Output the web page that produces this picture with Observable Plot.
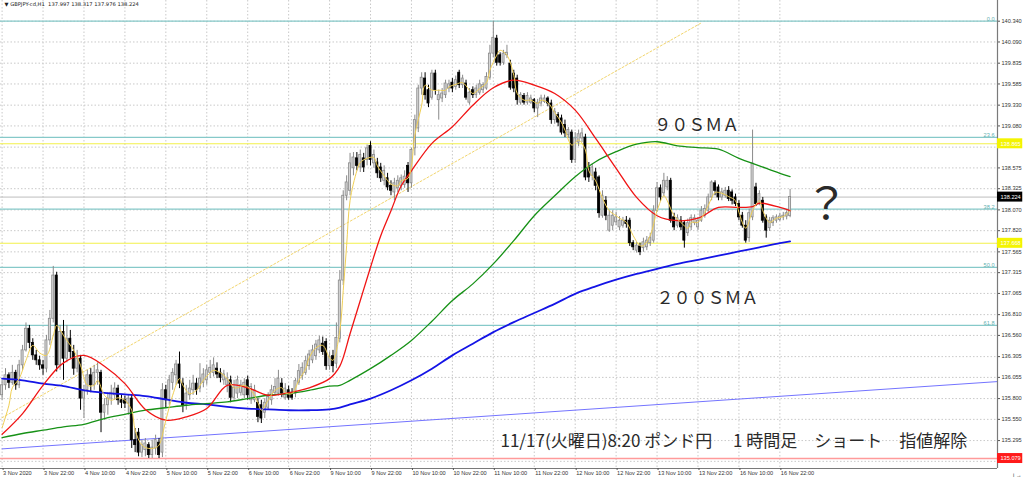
<!DOCTYPE html>
<html>
<head>
<meta charset="utf-8">
<script src="https://cdn.jsdelivr.net/npm/d3@7"></script>
<script src="https://cdn.jsdelivr.net/npm/@observablehq/plot@0.6"></script>
<style>
  html, body { margin: 0; padding: 0; background: #fff; }
  #chart { width: 1024px; height: 479px; overflow: hidden; }
  #chart svg { display: block; }
</style>
</head>
<body>
<div id="chart"></div>
<script>
// GBPJPY H1 candles, one row per hour: [open, high, low, close]
const nov03 = [
  [135.84,136.02,135.78,135.96],[135.96,136.16,135.90,136.08],[136.08,136.11,135.92,135.99],
  [135.99,136.20,135.96,136.11],[136.11,136.14,135.90,135.96],[135.96,136.26,135.92,136.20],
  [136.20,136.44,136.14,136.38],[136.38,136.71,136.36,136.64],[136.64,136.68,136.40,136.47],
  [136.47,136.52,136.26,136.32],[136.32,136.38,136.20,136.26],[136.26,136.31,136.14,136.20],
  [136.20,136.26,136.08,136.16],[136.16,136.56,136.11,136.50]
];
const nov04 = [
  [136.50,136.86,136.44,136.76],[136.76,137.39,136.71,137.28],[137.28,137.32,136.12,136.20],
  [136.20,136.68,136.14,136.60],[136.60,136.74,136.02,136.28],[136.28,136.68,136.23,136.52],
  [136.52,136.62,136.28,136.36],[136.36,136.44,136.08,136.16],[136.16,136.38,136.11,136.28],
  [136.28,136.32,135.66,135.80],[135.80,135.96,135.56,135.90],[135.90,136.14,135.84,136.08],
  [136.08,136.16,135.87,135.96],[135.96,136.20,135.90,136.11],[136.11,136.23,135.96,136.14],
  [136.11,136.14,135.39,135.63],[135.63,135.80,135.54,135.72],[135.72,135.87,135.60,135.80],
  [135.80,135.96,135.72,135.87],[135.84,135.99,135.78,135.92],[135.92,135.96,135.72,135.78],
  [135.78,135.84,135.68,135.75],[135.78,135.83,135.68,135.74],[135.74,135.84,135.60,135.80]
];
const nov05 = [
  [135.80,135.84,135.20,135.30],[135.30,135.44,135.15,135.24],[135.39,135.44,135.10,135.15],
  [135.15,135.30,135.09,135.24],[135.18,135.32,135.10,135.26],[135.24,135.27,135.08,135.12],
  [135.12,135.30,135.08,135.21],[135.20,135.36,135.12,135.30],[135.27,135.32,135.079,135.12],
  [135.15,135.98,135.09,135.90],[135.90,135.96,135.68,135.78],[135.78,136.08,135.72,136.02],
  [135.99,136.16,135.90,136.11],[136.08,136.26,135.96,136.21],[136.21,136.36,135.92,135.98],
  [135.98,136.04,135.63,135.72],[135.72,135.96,135.66,135.86],[135.84,136.02,135.78,135.92],
  [135.90,136.08,135.84,135.98],[135.98,136.04,135.84,135.90],[135.92,136.22,135.87,136.04],
  [135.99,136.16,135.93,136.09],[136.02,136.20,135.96,136.14],[136.11,136.26,136.04,136.17]
];
const nov06 = [
  [136.11,136.29,136.06,136.20],[136.16,136.23,136.04,136.09],[136.11,136.16,135.99,136.05],
  [136.02,136.14,135.96,136.09],[135.96,136.11,135.87,136.04],[136.02,136.07,135.75,135.81],
  [135.81,136.02,135.78,135.93],[135.86,136.07,135.80,136.02],[135.87,136.02,135.83,135.96],
  [135.84,136.04,135.80,135.99],[136.02,136.07,135.78,135.84],[135.78,135.98,135.73,135.94],
  [135.78,135.96,135.75,135.90],[135.75,135.80,135.51,135.58],[135.72,135.78,135.50,135.56],
  [135.63,135.80,135.56,135.75],[135.69,135.87,135.66,135.82],[135.78,135.96,135.72,135.90],
  [135.87,136.04,135.84,135.94],[135.86,136.14,135.83,136.04],[135.98,136.04,135.81,135.86],
  [135.81,135.98,135.78,135.92],[135.90,135.95,135.78,135.81],[135.87,135.92,135.78,135.81]
];
const nov09 = [
  [135.86,136.04,135.81,136.01],[135.99,136.21,135.96,136.13],[136.07,136.23,136.02,136.17],
  [136.11,136.31,136.08,136.25],[136.19,136.38,136.14,136.33],[136.26,136.44,136.22,136.38],
  [136.31,136.50,136.26,136.45],[136.38,136.55,136.34,136.50],[136.46,136.54,136.32,136.36],
  [136.48,136.52,136.14,136.19],[136.19,136.36,136.14,136.30],[136.31,136.38,136.11,136.19],
  [136.22,136.71,136.16,136.53],[136.52,137.34,136.47,137.22],[137.22,138.30,137.16,138.24],
  [138.24,138.48,138.18,138.40],[138.30,138.75,138.24,138.63],[138.57,138.76,138.48,138.70],
  [138.69,138.76,138.54,138.60],[138.58,138.79,138.52,138.73],[138.69,138.75,138.52,138.58],
  [138.67,138.85,138.60,138.81],[138.84,138.89,138.60,138.67],[138.63,138.79,138.57,138.73]
];
const nov10 = [
  [138.64,138.69,138.45,138.51],[138.58,138.63,138.40,138.45],[138.42,138.60,138.36,138.54],
  [138.45,138.51,138.30,138.34],[138.36,138.42,138.24,138.30],[138.28,138.45,138.18,138.39],
  [138.33,138.48,138.28,138.42],[138.36,138.49,138.30,138.45],[138.37,138.54,138.33,138.47],
  [138.60,138.64,138.28,138.39],[138.39,138.81,138.33,138.79],[138.81,139.21,138.72,139.15],
  [139.05,139.57,139.00,139.53],[139.53,139.72,139.45,139.66],[139.65,139.72,139.39,139.45],
  [139.51,139.57,139.30,139.35],[139.42,139.75,139.39,139.71],[139.71,139.75,139.45,139.51],
  [139.39,139.51,139.15,139.45],[139.41,139.53,139.36,139.47],[139.45,139.63,139.41,139.59],
  [139.53,139.63,139.48,139.58],[139.60,139.65,139.48,139.53],[139.55,139.68,139.51,139.63]
];
const nov11 = [
  [139.72,139.75,139.53,139.57],[139.57,139.69,139.53,139.65],[139.59,139.63,139.39,139.42],
  [139.36,139.53,139.33,139.48],[139.51,139.55,139.41,139.45],[139.45,139.57,139.41,139.53],
  [139.48,139.63,139.45,139.58],[139.51,139.60,139.47,139.57],[139.53,139.72,139.51,139.67],
  [139.66,140.05,139.63,139.95],[139.95,140.340,139.90,140.14],[140.13,140.17,139.80,139.84],
  [139.93,139.96,139.80,139.84],[139.84,139.99,139.81,139.95],[139.93,140.05,139.89,139.96],
  [139.83,139.87,139.51,139.54],[139.71,139.75,139.48,139.53],[139.65,139.69,139.33,139.39],
  [139.36,139.48,139.33,139.45],[139.44,139.47,139.33,139.36],[139.36,139.48,139.33,139.44],
  [139.36,139.45,139.34,139.41],[139.39,139.41,139.24,139.29],[139.29,139.40,139.18,139.36]
];
const nov12 = [
  [139.35,139.45,139.31,139.41],[139.37,139.45,139.35,139.41],[139.41,139.43,139.31,139.35],
  [139.35,139.39,139.10,139.15],[139.15,139.29,139.10,139.25],[139.21,139.24,139.07,139.12],
  [139.17,139.21,138.97,139.00],[139.09,139.15,138.94,138.99],[138.97,139.06,138.93,139.03],
  [139.00,139.03,138.63,138.67],[138.67,139.00,138.63,138.93],[138.88,139.03,138.83,138.98],
  [138.93,139.05,138.88,138.99],[138.94,138.98,138.42,138.46],[138.58,138.64,138.40,138.46],
  [138.48,138.62,138.42,138.58],[138.52,138.57,138.30,138.36],[138.46,138.48,137.97,138.03],
  [138.00,138.30,137.97,138.24],[138.18,138.23,137.94,138.00],[137.82,138.06,137.80,138.00],
  [137.88,138.06,137.82,138.00],[137.92,138.04,137.88,137.98],[137.86,137.99,137.82,137.94]
];
const nov13 = [
  [137.88,137.98,137.85,137.94],[137.94,137.99,137.85,137.90],[137.94,137.97,137.63,137.67],
  [137.67,137.70,137.58,137.62],[137.58,137.68,137.55,137.64],[137.63,137.67,137.52,137.56],
  [137.61,137.73,137.56,137.68],[137.62,137.75,137.58,137.70],[137.67,137.79,137.63,137.73],
  [137.70,138.12,137.67,138.06],[138.06,138.40,138.04,138.33],[138.33,138.37,138.17,138.22],
  [138.27,138.51,138.23,138.42],[138.34,138.47,138.30,138.42],[138.42,138.45,137.91,137.94],
  [137.98,138.03,137.82,137.86],[137.88,138.01,137.85,137.97],[137.94,137.99,137.82,137.86],
  [137.91,137.94,137.61,137.70],[137.79,137.96,137.75,137.91],[137.86,138.01,137.82,137.97],
  [137.91,138.01,137.88,137.97],[137.86,137.98,137.82,137.94],[137.94,138.11,137.92,138.06]
];
const nov16 = [
  [138.00,138.13,137.97,138.08],[138.06,138.26,138.03,138.22],[138.22,138.42,138.18,138.40],
  [138.39,138.42,138.24,138.30],[138.34,138.37,138.18,138.22],[138.22,138.33,138.18,138.28],
  [138.24,138.34,138.21,138.30],[138.30,138.35,138.17,138.20],[138.28,138.31,138.13,138.18],
  [138.22,138.26,138.11,138.14],[138.14,138.18,137.94,137.98],[138.00,138.04,137.85,137.88],
  [137.88,137.94,137.67,137.70],[137.73,138.08,137.68,138.03],[137.98,139.03,137.94,138.63],
  [138.34,138.39,138.11,138.14],[138.14,138.30,138.12,138.26],[138.18,138.22,137.91,137.94],
  [137.98,138.01,137.73,137.82],[137.85,137.98,137.81,137.94],[137.91,138.00,137.87,137.97],
  [137.94,138.01,137.91,137.98],[137.95,138.03,137.93,137.99],[137.98,138.04,137.94,138.00]
];
const nov17 = [
  [137.99,138.06,137.95,138.03],[137.997,138.317,137.976,138.224]
];

// Moving averages as [bar number, price]
const smaShort = [
  [0,135.45],[2,135.72],[3,135.93],[5,136.04],[7,136.26],[9,136.44],[11,136.35],[13,136.32],
  [15,136.56],[16,136.68],[18,136.56],[19,136.50],[21,136.38],[23,136.20],[25,135.96],[27,135.96],
  [28,136.02],[30,135.84],[32,135.78],[34,135.81],[36,135.78],[38,135.66],[39,135.42],[41,135.24],
  [43,135.20],[45,135.21],[46,135.24],[48,135.54],[50,135.84],[52,136.04],[53,135.96],[55,135.86],
  [57,135.90],[59,136.02],[61,136.11],[62,136.14],[64,136.11],[66,136.04],[68,135.93],[69,135.93],
  [71,135.96],[73,135.90],[75,135.75],[76,135.66],[78,135.78],[80,135.90],[82,135.93],[83,135.87],
  [85,135.86],[87,136.02],[89,136.16],[90,136.29],[92,136.41],[94,136.44],[96,136.29],[97,136.26],
  [99,136.62],[100,137.10],[101,137.64],[102,138.18],[104,138.54],[105,138.64],[107,138.69],[109,138.70],
  [110,138.60],[112,138.48],[114,138.38],[116,138.36],[117,138.42],[119,138.45],[120,138.60],[121,138.97],
  [123,139.33],[124,139.57],[126,139.51],[128,139.51],[130,139.51],[131,139.55],[133,139.58],[135,139.60],
  [137,139.51],[138,139.47],[140,139.53],[142,139.60],[143,139.75],[145,139.93],[146,139.99],[148,139.93],
  [150,139.69],[151,139.47],[153,139.39],[155,139.39],[157,139.35],[158,139.39],[160,139.36],[162,139.24],
  [164,139.12],[165,139.03],[167,138.85],[169,138.91],[171,138.79],[172,138.54],[174,138.42],[176,138.21],
  [178,138.06],[180,138.00],[181,137.97],[183,137.92],[185,137.76],[187,137.64],[188,137.64],[190,137.76],
  [192,138.06],[194,138.24],[195,138.18],[197,138.00],[199,137.92],[201,137.85],[202,137.92],[204,137.92],
  [206,138.04],[208,138.21],[209,138.28],[211,138.27],[213,138.23],[215,138.18],[216,138.04],[218,137.85],
  [220,138.06],[222,138.18],[223,138.06],[225,137.92],[227,137.97],[229,137.99],[231,138.06]
];
const smaRed = [
  [0,135.37],[6,135.62],[12,135.96],[18,136.23],[24,136.32],[30,136.19],[36,135.98],[42,135.67],
  [48,135.54],[54,135.58],[60,135.68],[66,135.96],[72,135.93],[78,135.84],[84,135.87],[90,135.93],
  [96,136.04],[99,136.19],[102,136.58],[105,136.98],[108,137.38],[111,137.76],[114,138.06],[117,138.36],
  [120,138.54],[126,138.87],[132,139.07],[138,139.33],[144,139.54],[150,139.63],[156,139.57],[162,139.47],
  [168,139.27],[174,138.93],[180,138.57],[186,138.22],[192,138.00],[198,137.94],[204,137.97],[210,138.10],
  [216,138.10],[220,138.11],[222,138.15],[228,138.10],[231,138.06]
];
const sma90 = [
  [0,135.33],[6,135.38],[12,135.42],[18,135.46],[24,135.49],[30,135.56],[36,135.61],[42,135.66],
  [48,135.69],[54,135.72],[60,135.74],[66,135.76],[72,135.80],[78,135.84],[84,135.86],[90,135.90],
  [96,135.95],[99,135.96],[102,136.02],[108,136.16],[114,136.32],[120,136.50],[126,136.73],[132,136.98],
  [138,137.18],[144,137.42],[150,137.70],[156,138.00],[162,138.24],[168,138.47],[174,138.65],[180,138.77],
  [186,138.86],[192,138.89],[198,138.84],[204,138.82],[210,138.80],[216,138.69],[222,138.60],[228,138.51],
  [231,138.47]
];
const sma200 = [
  [0,136.04],[6,136.02],[12,135.98],[18,135.95],[24,135.90],[30,135.87],[36,135.85],[42,135.83],
  [48,135.79],[54,135.75],[60,135.73],[66,135.70],[72,135.68],[78,135.67],[84,135.66],[90,135.66],
  [96,135.67],[99,135.69],[102,135.73],[108,135.80],[114,135.90],[120,136.02],[126,136.16],[132,136.32],
  [138,136.46],[144,136.60],[150,136.72],[156,136.83],[162,136.94],[168,137.06],[174,137.15],[180,137.23],
  [186,137.30],[192,137.36],[198,137.42],[204,137.47],[210,137.52],[216,137.57],[222,137.62],[228,137.67],
  [231,137.69]
];

// Drawn objects: trend lines as [bar number, price] anchors
const goldTrend = [[0,135.57],[205,140.32]];
const blueTrend = [[0,135.195],[292,136.005]];

// Fibonacci retracement anchors and levels
const fibHigh = 140.340, fibLow = 134.419;
const fibLevels = [0.0, 23.6, 38.2, 50.0, 61.8];

// Horizontal price lines
const yellowLines = [138.865, 137.668];
const lowLine = 135.079;

// Axis ticks
const priceTicks = [140.340,140.090,139.835,139.585,139.330,139.080,138.825,138.575,138.325,138.070,
  137.820,137.565,137.315,137.065,136.810,136.560,136.305,136.055,135.800,135.550,135.295,135.045];
const timeLabels = ["3 Nov 2020","3 Nov 22:00","4 Nov 10:00","4 Nov 22:00","5 Nov 10:00","5 Nov 22:00",
  "6 Nov 10:00","6 Nov 22:00","9 Nov 10:00","9 Nov 22:00","10 Nov 10:00","10 Nov 22:00","11 Nov 10:00",
  "11 Nov 22:00","12 Nov 10:00","12 Nov 22:00","13 Nov 10:00","13 Nov 22:00","16 Nov 10:00","16 Nov 22:00"];
const barsPerLabel = 12;

// Text notes placed at [bar number, price]
const maNotes = [
  {i: 203.6, price: 139.085, text: "９０ＳＭＡ"},
  {i: 206.8, price: 137.004, text: "２００ＳＭＡ"}
];
const questionNote = {i: 241.7, price: 138.12, text: "？"};
const tradeNote = {i: 146.1, price: 135.28, text: "11/17(火曜日)8:20 ポンド円　 1 時間足　ショート　指値解除"};

// ---- build ----
const bars = [nov03, nov04, nov05, nov06, nov09, nov10, nov11, nov12, nov13, nov16, nov17]
  .flat()
  .map(([open, high, low, close], i) => ({i, open, high, low, close, up: close >= open}));
const last = bars[bars.length - 1];

const xDomain = [-0.47, 291.8];
const yDomain = [134.959, 140.589];
const timeTicks = timeLabels.map((label, k) => ({i: k * barsPerLabel, label}));
const fib = fibLevels.map(level => ({level, price: fibHigh - (fibHigh - fibLow) * level / 100}));
const tags = [
  {price: yellowLines[0], bg: "#f4f400", fg: "#ffffff"},
  {price: last.close, bg: "#000000", fg: "#ffffff"},
  {price: yellowLines[1], bg: "#f4f400", fg: "#ffffff"},
  {price: lowLine, bg: "#ff1a1a", fg: "#ffffff"}
];
// price labels that would sit under a tag are left to the tag
const labelTicks = priceTicks.filter(t => tags.every(g => Math.abs(g.price - t) > 0.065));
const xEnd = xDomain[1];

const upFill = "#d6d6d6", upEdge = "#8a8a8a";
const axisFont = "'Liberation Sans', Arial, sans-serif";
const cjkFont = "'Noto Sans CJK JP', 'Noto Sans', sans-serif";

const chart = Plot.plot({
  width: 1024,
  height: 479,
  marginLeft: 0,
  marginRight: 27,
  marginTop: 0,
  marginBottom: 11,
  x: {domain: xDomain},
  y: {domain: yDomain},
  style: {fontFamily: axisFont, fontSize: "5.6px", background: "#ffffff", color: "#222"},
  marks: [
    // dotted grid
    Plot.gridY(priceTicks, {stroke: "#c9c9c9", strokeOpacity: 1, strokeDasharray: "1.5,2"}),
    Plot.gridX(timeTicks.map(d => d.i), {stroke: "#c9c9c9", strokeOpacity: 1, strokeDasharray: "1.5,2"}),

    // fibonacci retracement
    Plot.ruleY(fib, {y: "price", stroke: "#86c9c9", strokeWidth: 1.2}),
    Plot.text(fib, {y: "price", frameAnchor: "right", text: d => d.level.toFixed(1), textAnchor: "end",
      lineAnchor: "bottom", dx: -3, dy: -0.5, fill: "#5fb0b0", fontSize: 5.6}),

    // horizontal levels
    Plot.ruleY(yellowLines, {stroke: "#f2f04a", strokeWidth: 1.1}),
    Plot.ruleY([last.close], {stroke: "#bdbdbd", strokeWidth: 1}),
    Plot.ruleY([lowLine], {stroke: "#ff9a9a", strokeWidth: 1.6}),

    // trend lines
    Plot.line(goldTrend, {x: d => d[0], y: d => d[1], stroke: "#f2d56c", strokeWidth: 1, strokeDasharray: "2,2", clip: true}),
    Plot.line(blueTrend, {x: d => d[0], y: d => d[1], stroke: "#7474ff", strokeWidth: 1, clip: true}),

    // candles
    Plot.ruleX(bars, {x: "i", y1: "low", y2: "high", stroke: d => d.up ? upEdge : "#000000", strokeWidth: 1}),
    Plot.rect(bars, {x1: d => d.i - 0.3, x2: d => d.i + 0.3, y1: "open", y2: "close",
      fill: d => d.up ? upFill : "#000000", stroke: d => d.up ? upEdge : "#000000", strokeWidth: 0.8}),

    // moving averages
    Plot.line(sma200, {x: d => d[0], y: d => d[1], stroke: "#1414e6", strokeWidth: 1.8, curve: "catmull-rom"}),
    Plot.line(sma90, {x: d => d[0], y: d => d[1], stroke: "#169116", strokeWidth: 1.3, curve: "catmull-rom"}),
    Plot.line(smaRed, {x: d => d[0], y: d => d[1], stroke: "#f01414", strokeWidth: 1.3, curve: "catmull-rom"}),
    Plot.line(smaShort, {x: d => d[0], y: d => d[1], stroke: "#f0cf55", strokeWidth: 1, curve: "catmull-rom"}),

    // axes and border
    Plot.ruleY([yDomain[0]], {stroke: "#7a7a7a", strokeWidth: 1.2}),
    Plot.ruleX([xEnd], {stroke: "#7a7a7a", strokeWidth: 1.2}),
    Plot.axisY(labelTicks, {anchor: "right", tickSize: 2, tickPadding: 2, tickFormat: d3.format(".3f"),
      fontSize: 5.6, fill: "#333", stroke: "#555"}),
    Plot.axisX(timeTicks.map(d => d.i), {anchor: "bottom", tickSize: 2, tickPadding: 0.5,
      tickFormat: i => timeLabels[i / barsPerLabel], textAnchor: "start", dx: 1, fontSize: 5.6, fill: "#333", stroke: "#555"}),

    // price tags on the axis
    Plot.rect(tags, {x1: () => xEnd, x2: () => xEnd + 7.4, y1: d => d.price - 0.06, y2: d => d.price + 0.06, fill: "bg"}),
    Plot.text(tags, {x: () => xEnd, y: "price", text: d => d.price.toFixed(3), textAnchor: "start", dx: 3,
      fill: "fg", fontSize: 5.6}),

    // symbol header
    Plot.text([last], {frameAnchor: "top-left", dx: 4, dy: 2, fontFamily: "'DejaVu Sans', sans-serif", fontSize: 5.2, fill: "#222",
      text: d => `▼ GBPJPY-cd,H1  ${d.open.toFixed(3)} ${d.high.toFixed(3)} ${d.low.toFixed(3)} ${d.close.toFixed(3)}`}),

    // notes
    Plot.text(maNotes, {x: "i", y: "price", text: "text", fontSize: 17, textAnchor: "middle",
      fontFamily: cjkFont, fill: "#2a2a2a"}),
    Plot.text([questionNote], {x: "i", y: "price", text: "text", fontSize: 44, textAnchor: "middle",
      fontFamily: cjkFont, fill: "#2a2a2a"}),
    Plot.text([tradeNote], {x: "i", y: "price", text: "text", fontSize: 17, textAnchor: "start",
      fontFamily: cjkFont, fill: "#2a2a2a"})
  ]
});

document.getElementById("chart").appendChild(chart);
</script>
</body>
</html>
